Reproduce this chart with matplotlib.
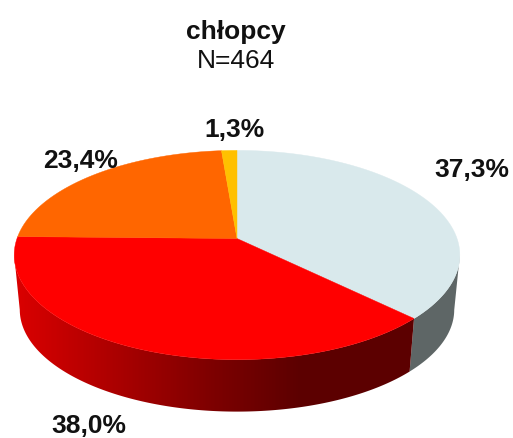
import numpy as np
import matplotlib
matplotlib.use("Agg")
import matplotlib.pyplot as plt
from matplotlib.patches import Polygon
from matplotlib.colors import LinearSegmentedColormap, Normalize

plt.rcParams['font.family'] = ['Liberation Sans', 'DejaVu Sans']

# Data
title = "chłopcy"
subtitle = "N=464"
labels = ["37,3%", "38,0%", "23,4%", "1,3%"]
values = [37.3, 38.0, 23.4, 1.3]
colors = ["#d9e9ec", "#ff0000", "#ff6600", "#ffc000"]

# Pie geometry in pixels (perspective view of a disc)
cx, cy = 237, 239.5
rx, ry = 220, 102
k = 0.158
shrink = 0.975
depth = 55

side_cmap = LinearSegmentedColormap.from_list(
    "side", [(0, "#d80000"), (0.5, "#7c0000"), (0.72, "#5c0000"), (1, "#5c0000")])
side_norm = Normalize(20, 410)


def rim(theta, bottom=False):
    # theta runs clockwise from 12 o'clock, radians
    u, v = np.sin(theta), np.cos(theta)
    w = 1 + k * v
    if bottom:
        return cx + shrink * rx * u / w, cy + depth - shrink * ry * v / w
    return cx + rx * u / w, cy - ry * v / w


def wall(a, b):
    # keep the part of the rim below the widest point of the disc
    t = np.linspace(a, b, 400)
    t = t[np.cos(t) <= -k]
    x0, y0 = rim(t)
    x1, y1 = rim(t, True)
    return np.c_[np.r_[x0, x1[::-1]], np.r_[y0, y1[::-1]]]


fig = plt.figure(figsize=(5.13, 4.39), dpi=100)
ax = fig.add_axes([0, 0, 1, 1])

edges = np.concatenate([[0], np.cumsum(values)]) / np.sum(values) * 2 * np.pi

# Side wall, only the first two slices are visible from the front
ax.add_patch(Polygon(wall(edges[0], edges[1]), closed=True, fc="#5e6666", ec="none"))

grad_x = np.arange(0, 513)
im = ax.imshow(side_cmap(side_norm(grad_x))[np.newaxis, :, :],
               extent=(0, 513, 439, 0), aspect="auto", zorder=1)
red_wall = Polygon(wall(edges[1], edges[2]), closed=True, transform=ax.transData)
im.set_clip_path(red_wall)

# Top surface
for i in range(len(values)):
    t = np.linspace(edges[i], edges[i + 1], 200)
    x, y = rim(t)
    ax.fill(np.r_[cx, x], np.r_[cy, y], color=colors[i], lw=0.3, zorder=2)

ax.set_xlim(0, 513)
ax.set_ylim(439, 0)
ax.axis("off")

# Texts
text_color = "#111111"
ax.text(236, 32, title, ha="center", va="center", fontsize=19,
        fontweight="bold", color=text_color)
ax.text(236, 61, subtitle, ha="center", va="center", fontsize=19, color=text_color)
label_pos = [(472, 170), (89, 426), (81, 161), (235, 130)]
for lab, (lx, ly) in zip(labels, label_pos):
    ax.text(lx, ly, lab, ha="center", va="center", fontsize=19,
            fontweight="bold", color=text_color)

fig.savefig("out.png", dpi=100)
